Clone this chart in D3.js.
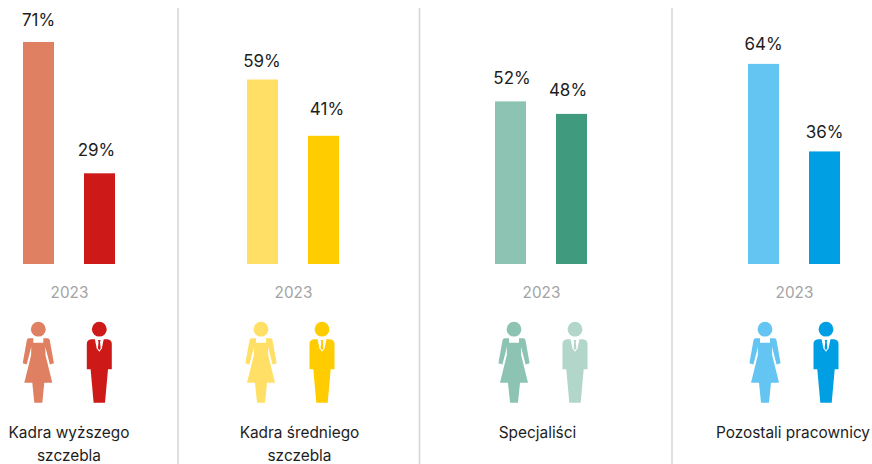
<!DOCTYPE html>
<html><head><meta charset="utf-8">
<script src="https://cdnjs.cloudflare.com/ajax/libs/d3/7.8.5/d3.min.js"></script>
<style>html,body{margin:0;padding:0;background:#fff}svg{display:block}text{font-family:Inter,"Open Sans",sans-serif}</style>
</head><body><svg id="c" width="872" height="464"></svg>
<script>
const categories=[["Kadra wyższego","szczebla"],["Kadra średniego","szczebla"],["Specjaliści"],["Pozostali pracownicy"]];
const women=[71,59,52,64];
const men=[29,41,48,36];
const year="2023";
const lightColors=["#e08063","#ffdf66","#8cc3b2","#64c5f2"];
const darkColors=["#ce1919","#ffcc00","#3f9a7e","#009fe3"];
const manIconColors=["#ce1919","#ffcc00","#b2d6ca","#009fe3"];

// layout
const barLeft=[23,247,495,748], barW=31, barGap=61, base=264;
const iconW=[38.3,261,514,765], iconGap=61;
const labelX=[69,299.5,537.5,793], yearX=[69.5,293.5,541.5,794.5];
const dividers=[178,419.5,672];
const labelDx=[[0,-3],[-0.5,3.5],[1.5,-3.5],[0,0]];
const labelDy=[[-16,-17],[-13,-21],[-17,-18],[-14,-13.5]];

const svg=d3.select("#c");
const y=d3.scaleLinear().domain([0,100]).range([base,base-312.7]);

const womanPath="M-9.5,9 L-5,9 L-5,13.5 L5,13.5 L5,9 L9.5,9 Q11,9 11.5,11 L15.6,34 L11.6,35.3 L7,17.5 L7.2,26 L14,53.5 L6,53.5 L4,73.5 L-4,73.5 L-6,53.5 L-14,53.5 L-7.2,26 L-7,17.5 L-11.6,35.3 L-15.6,34 L-11.5,11 Q-11,9 -9.5,9 Z";
const manPath="M-8,10 L8,10 Q12.5,10.5 12.5,14.5 L12.5,40 L8.7,40 L5.7,73.5 L-5.7,73.5 L-8.7,40 L-12.5,40 L-12.5,14.5 Q-12.5,10.5 -8,10 Z";
const collarPath="M-4.5,9.5 L4.5,9.5 L2.6,19 L0,22.5 L-2.6,19 Z";
const tiePath="M-1.3,10.8 L1.3,10.8 L0.8,13 L1.4,19 L0,21 L-1.4,19 L-0.8,13 Z";

svg.selectAll("line.div").data(dividers).join("line")
 .attr("x1",d=>d).attr("x2",d=>d).attr("y1",8).attr("y2",464)
 .attr("stroke","#d4d4d4").attr("stroke-width",1.5);

categories.forEach((cat,i)=>{
  const g=svg.append("g");
  const vals=[women[i],men[i]], cols=[lightColors[i],darkColors[i]];
  vals.forEach((v,j)=>{
    const x=barLeft[i]+j*barGap;
    g.append("rect").attr("x",x).attr("y",y(v)).attr("width",barW).attr("height",y(0)-y(v)).attr("fill",cols[j]);
    g.append("text").attr("x",x+barW/2+labelDx[i][j]).attr("y",y(v)+labelDy[i][j]).attr("text-anchor","middle")
     .attr("font-size",17).attr("fill","#1d1d1d").text(v+"%");
  });
  g.append("text").attr("x",yearX[i]).attr("y",298).attr("text-anchor","middle")
   .attr("font-size",15.3).attr("fill","#a3a3a3").text(year);
  const w=g.append("g").attr("transform",`translate(${iconW[i]},329.2)`).attr("fill",lightColors[i]);
  w.append("circle").attr("r",7.4);
  w.append("path").attr("d",womanPath);
  const m=g.append("g").attr("transform",`translate(${iconW[i]+iconGap},329.2)`).attr("fill",manIconColors[i]);
  m.append("circle").attr("r",7.4);
  m.append("path").attr("d",manPath);
  m.append("path").attr("d",collarPath).attr("fill","#fff");
  m.append("path").attr("d",tiePath);
  cat.forEach((t,k)=>{
    g.append("text").attr("x",labelX[i]).attr("y",438+k*23).attr("text-anchor","middle")
     .attr("font-size",15.4).attr("fill","#1d1d1d").text(t);
  });
});
</script></body></html>
